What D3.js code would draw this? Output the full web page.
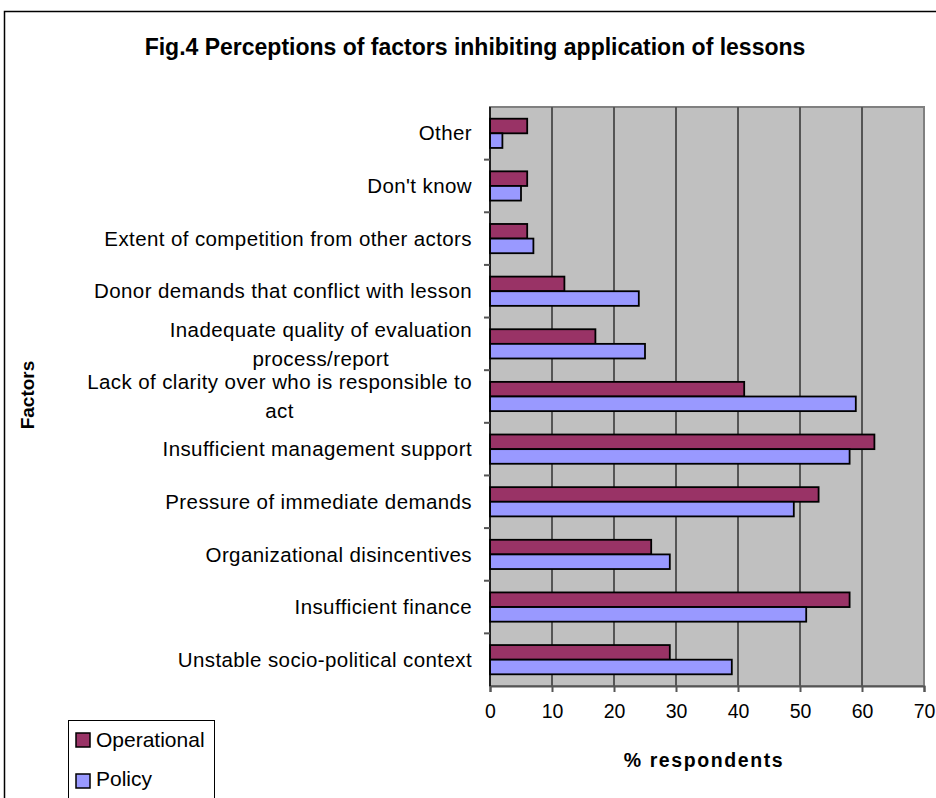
<!DOCTYPE html>
<html>
<head>
<meta charset="utf-8">
<script src="https://cdn.jsdelivr.net/npm/d3@7"></script>
<style>
  body { margin: 0; background: #fff; }
  text { font-family: "Liberation Sans", Arial, sans-serif; fill: #000; }
</style>
</head>
<body>
<div id="chart"></div>
<script>
// DATA
let categories = [
    "Other",
    "Don't know",
    "Extent of competition from other actors",
    "Donor demands that conflict with lesson",
    "Inadequate quality of evaluation|process/report",
    "Lack of clarity over who is responsible to|act",
    "Insufficient management support",
    "Pressure of immediate demands",
    "Organizational disincentives",
    "Insufficient finance",
    "Unstable socio-political context"
];
let seriesNames = ["Operational", "Policy"];
let operational = [6, 6, 6, 12, 17, 41, 62, 53, 26, 58, 29];
let policy = [2, 5, 7, 24, 25, 59, 58, 49, 29, 51, 39];
let xTicks = [0, 10, 20, 30, 40, 50, 60, 70];
let colors = ["#993366", "#9999FF"];

let data = categories.map((c, i) => ({cat: c, values: [operational[i], policy[i]]}));

// CHART AREA
let W = 936, H = 798;
let margin = {top: 107, right: 12, bottom: 112, left: 490},
    width = W - margin.left - margin.right,
    height = H - margin.top - margin.bottom;

let root = d3.select("#chart").append("svg")
    .attr("width", W)
    .attr("height", H);

// outer frame
root.append("rect")
    .attr("x", 4.5).attr("y", 11.5)
    .attr("width", 960).attr("height", 820)
    .attr("fill", "none").attr("stroke", "#000").attr("stroke-width", 1.5);

root.append("text")
    .attr("x", 475).attr("y", 55)
    .attr("text-anchor", "middle")
    .attr("font-size", 23).attr("font-weight", "bold")
    .text("Fig.4 Perceptions of factors inhibiting application of lessons");

let svg = root.append("g")
    .attr("transform", "translate(" + margin.left + "," + margin.top + ")");

// SCALES
let x = d3.scaleLinear().domain([0, 70]).range([0, width]);
let y0 = d3.scaleBand().domain(categories).range([0, height]);
let y1 = d3.scaleBand().domain(seriesNames).range([0, y0.bandwidth()]).paddingOuter(0.8);

// plot background
svg.append("rect")
    .attr("width", width).attr("height", height)
    .attr("fill", "#C0C0C0")
    .attr("stroke", "#808080").attr("stroke-width", 2);

// gridlines
svg.selectAll(".grid")
    .data(xTicks.slice(1, -1))
    .enter().append("line")
    .attr("x1", d => x(d)).attr("x2", d => x(d))
    .attr("y1", 0).attr("y2", height)
    .attr("stroke", "#555").attr("stroke-width", 2);

// BARS
let groups = svg.selectAll(".cat")
    .data(data)
    .enter().append("g")
    .attr("transform", d => "translate(0," + y0(d.cat) + ")");

groups.selectAll("rect")
    .data(d => d.values.map((v, i) => ({s: seriesNames[i], v: v, i: i})))
    .enter().append("rect")
    .attr("x", 0)
    .attr("y", d => y1(d.s))
    .attr("width", d => x(d.v))
    .attr("height", y1.bandwidth())
    .attr("fill", d => colors[d.i])
    .attr("stroke", "#000").attr("stroke-width", 1.8);

// X AXIS
let xAxis = d3.axisBottom(x).tickValues(xTicks).tickSize(6).tickPadding(12);
let xAxisGroup = svg.append("g")
    .attr("transform", "translate(0," + height + ")")
    .call(xAxis);
xAxisGroup.select(".domain").attr("stroke", "#555").attr("stroke-width", 2);
xAxisGroup.selectAll(".tick line").attr("stroke", "#555").attr("stroke-width", 2);
xAxisGroup.selectAll("text").attr("font-size", 19.5).attr("font-family", "Liberation Sans, Arial, sans-serif");

// Y AXIS (ticks at band boundaries)
svg.append("line")
    .attr("x1", 0).attr("x2", 0).attr("y1", 0).attr("y2", height)
    .attr("stroke", "#000").attr("stroke-width", 1.5);
svg.selectAll(".ytick")
    .data(categories.slice(1))
    .enter().append("line")
    .attr("x1", -6).attr("x2", 0)
    .attr("y1", d => y0(d)).attr("y2", d => y0(d))
    .attr("stroke", "#555").attr("stroke-width", 2);

// category labels
let labelRight = -18;
categories.forEach(c => {
    let lines = c.split("|");
    let g = svg.append("g");
    let cy = y0(c) + y0.bandwidth() / 2;
    let lh = 29;
    let texts = lines.map((l, i) => g.append("text")
        .attr("font-size", 20.5)
        .attr("letter-spacing", 0.4)
        .attr("y", cy + (i - (lines.length - 1) / 2) * lh)
        .attr("dy", "0.35em")
        .attr("text-anchor", "middle")
        .text(l));
    let maxW = d3.max(texts, t => t.node().getComputedTextLength());
    texts.forEach(t => t.attr("x", labelRight - maxW / 2));
});

// axis titles
root.append("text")
    .attr("x", 704).attr("y", 767)
    .attr("text-anchor", "middle")
    .attr("font-size", 19.5).attr("font-weight", "bold")
    .attr("letter-spacing", 1.6)
    .text("% respondents");

root.append("text")
    .attr("transform", "translate(34,395) rotate(-90)")
    .attr("text-anchor", "middle")
    .attr("font-size", 19).attr("font-weight", "bold")
    .text("Factors");

// LEGEND
let legend = root.append("g");
legend.append("rect")
    .attr("x", 68.5).attr("y", 720.5)
    .attr("width", 146).attr("height", 100)
    .attr("fill", "#fff").attr("stroke", "#000").attr("stroke-width", 1);
seriesNames.forEach((s, i) => {
    legend.append("rect")
        .attr("x", 76).attr("y", 733 + i * 41)
        .attr("width", 14).attr("height", 14)
        .attr("fill", colors[i]).attr("stroke", "#000").attr("stroke-width", 1.5);
    legend.append("text")
        .attr("x", 96).attr("y", 740 + i * 39)
        .attr("dy", "0.35em")
        .attr("font-size", 21)
        .text(s);
});
</script>
</body>
</html>
